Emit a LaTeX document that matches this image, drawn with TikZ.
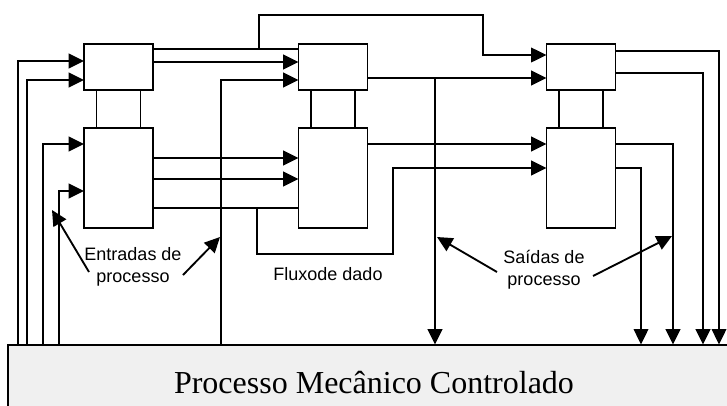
\documentclass[tikz,border=0pt]{standalone}
\usepackage{fontspec}
\setmainfont{Liberation Serif}
\newfontfamily\labelfont{Liberation Sans}
\usetikzlibrary{arrows.meta}

\begin{document}
\begin{tikzpicture}[x=0.75pt,y=-0.75pt,
    blk/.style={draw,line width=1.1pt,inner sep=0pt,outer sep=0pt,minimum width=51.75pt},
    sig/.style={-{Triangle[length=11.5pt,width=11pt]},line width=1.4pt},
    wire/.style={line width=1pt},
    note/.style={font=\labelfont\fontsize{13.5}{16.5}\selectfont,align=center}]
    \useasboundingbox (0,0) rectangle (727,405);
    % controlled plant
    \node[draw,fill=black!6,line width=0.8pt,inner sep=0pt,minimum width=549pt,minimum height=57pt,
        font=\fontsize{24}{28}\selectfont] (plant) at (374,383) {Processo Mecânico Controlado};
    % controller blocks
    \node[blk,minimum height=34.5pt] (A1) at (118.5,67) {};
    \node[blk,minimum height=75pt] (A2) at (118.5,178) {};
    \node[blk,minimum height=34.5pt] (B1) at (333,67) {};
    \node[blk,minimum height=75pt] (B2) at (333,178) {};
    \node[blk,minimum height=34.5pt] (C1) at (581,67) {};
    \node[blk,minimum height=75pt] (C2) at (581,178) {};
    \foreach \c in {A,B,C} {
        \draw[line width=1.1pt] ([xshift=-16.5pt]\c1.south) -- ([xshift=-16.5pt]\c2.north);
        \draw[line width=1.1pt] ([xshift=16.5pt]\c1.south) -- ([xshift=16.5pt]\c2.north);
    }
    % process inputs
    \draw[sig] (plant.north -| 18,0) |- (A1.west |- 0,61);
    \draw[sig] (plant.north -| 27,0) |- (A1.west |- 0,80);
    \draw[sig] (plant.north -| 43,0) |- (A2.west |- 0,144);
    \draw[sig] (plant.north -| 59,0) |- (A2.west |- 0,191);
    \draw[sig] (plant.north -| 221,0) |- (B1.west |- 0,80);
    % data flow
    \draw[wire] (A1.east |- 0,49) -- (B1.west |- 0,49);
    \draw[sig,line width=1pt] (A1.east |- 0,49) -| (259,15) -| (483,55) -- (C1.west |- 0,55);
    \draw[sig] (A1.east |- 0,62) -- (B1.west |- 0,62);
    \draw[sig] (A2.east |- 0,158) -- (B2.west |- 0,158);
    \draw[sig] (A2.east |- 0,179) -- (B2.west |- 0,179);
    \draw[wire] (A2.east |- 0,208) -- (B2.west |- 0,208);
    \draw[sig] (257,208) |- (393,254) |- (C2.west |- 0,168);
    \draw[sig] (B1.east |- 0,78) -- (C1.west |- 0,78);
    \draw[sig] (435,78) -- (plant.north -| 435,0);
    \draw[sig] (B2.east |- 0,144) -- (C2.west |- 0,144);
    % process outputs
    \draw[sig,line width=1pt] (C1.east |- 0,51) -| (plant.north -| 719,0);
    \draw[sig] (C1.east |- 0,73) -| (plant.north -| 703,0);
    \draw[sig] (C2.east |- 0,144) -| (plant.north -| 673,0);
    \draw[sig,line width=1pt] (C2.east |- 0,168) -| (plant.north -| 641,0);
    % labels
    \node[note] (inp) at (133,267) {Entradas de\\processo};
    \node[note] (flow) at (328,274) {Fluxode dado};
    \node[note] (outp) at (544,270) {Saídas de\\processo};
    \coordinate (i1) at (89,272);
    \coordinate (i2) at (183,275);
    \coordinate (o1) at (497,272);
    \coordinate (o2) at (593,276);
    \draw[sig] (i1) -- (52,210);
    \draw[sig] (i2) -- (220,237);
    \draw[sig] (o1) -- (437,237);
    \draw[sig] (o2) -- (672,236);
\end{tikzpicture}
\end{document}
